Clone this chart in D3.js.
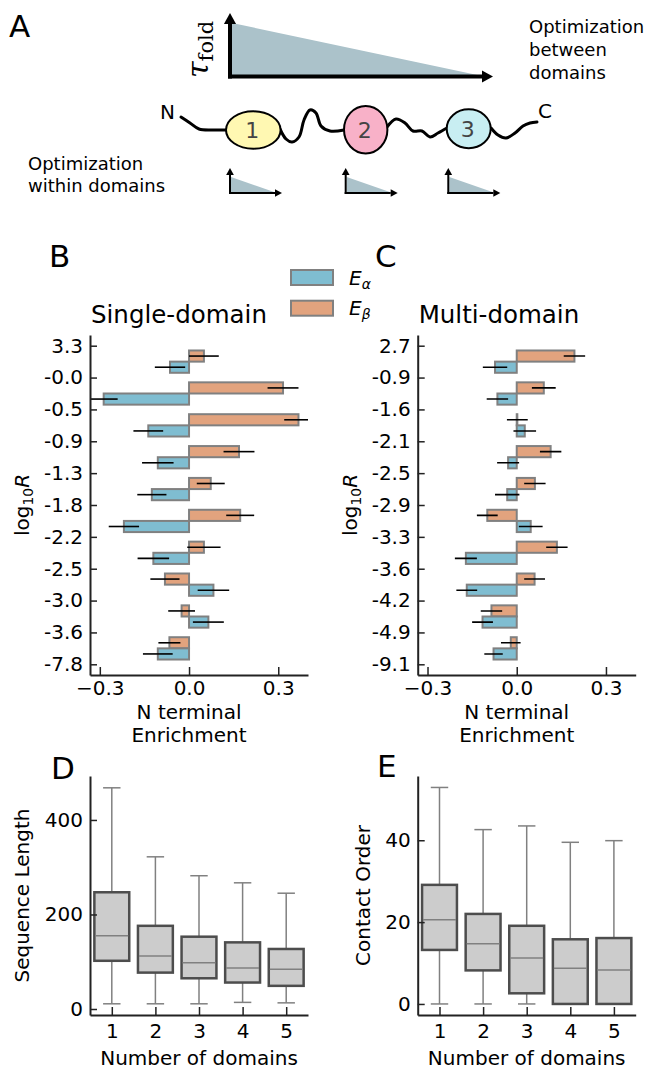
<!DOCTYPE html>
<html>
<head>
<meta charset="utf-8">
<title>Domain folding enrichment</title>
<script src="https://cdn.jsdelivr.net/npm/d3@7"></script>
<style>
  body { margin: 0; background: #fff; }
  svg text { font-family: "DejaVu Sans", sans-serif; fill: #000; }
  .axis path, .axis line { stroke: #222; }
  .axis path { stroke-width: 2; }
  .axis line { stroke-width: 1.5; }
  .axis text { font-size: 20px; font-family: "DejaVu Sans", sans-serif; fill: #000; }
</style>
</head>
<body>
<svg id="fig" width="649" height="1070"></svg>
<script>
// ---- panel B : single-domain enrichment ----
var rowTicksB = ["3.3", "-0.0", "-0.5", "-0.9", "-1.3", "-1.8", "-2.2", "-2.5", "-3.0", "-3.6", "-7.8"];
var alphaB    = [-0.064, -0.287, -0.137, -0.105, -0.125, -0.219, -0.120, 0.082, 0.065, -0.105];
var alphaErrB = [0.051, 0.047, 0.050, 0.053, 0.049, 0.051, 0.053, 0.053, 0.052, 0.050];
var betaB     = [0.050, 0.316, 0.368, 0.168, 0.073, 0.172, 0.050, -0.081, -0.025, -0.066];
var betaErrB  = [0.050, 0.052, 0.048, 0.052, 0.047, 0.047, 0.056, 0.049, 0.045, 0.037];

// ---- panel C : multi-domain enrichment ----
var rowTicksC = ["2.7", "-0.9", "-1.6", "-2.1", "-2.5", "-2.9", "-3.3", "-3.6", "-4.2", "-4.9", "-9.1"];
var alphaC    = [-0.073, -0.065, 0.027, -0.029, -0.032, 0.047, -0.171, -0.168, -0.115, -0.078];
var alphaErrC = [0.041, 0.036, 0.038, 0.037, 0.041, 0.040, 0.037, 0.035, 0.035, 0.031];
var betaC     = [0.194, 0.091, 0.002, 0.114, 0.061, -0.099, 0.135, 0.060, -0.085, -0.020];
var betaErrC  = [0.036, 0.040, 0.035, 0.036, 0.036, 0.035, 0.036, 0.035, 0.036, 0.033];

var enrichTicks = [-0.3, 0.0, 0.3];

// ---- panels D / E : box plots by number of domains ----
var nDomains = [1, 2, 3, 4, 5];
var seqLo  = [11, 11, 11, 14, 13];
var seqQ1  = [102, 77, 65, 56, 49];
var seqMed = [155, 112, 98, 87, 84];
var seqQ3  = [247, 176, 153, 141, 127];
var seqHi  = [468, 322, 282, 267, 245];
var seqTicks = [0, 200, 400];

var coLo  = [0, 0, 0, 0, 0];
var coQ1  = [13.2, 8.2, 2.6, 0, 0];
var coMed = [20.6, 14.7, 11.2, 8.7, 8.3];
var coQ3  = [29.1, 22.0, 19.1, 15.8, 16.1];
var coHi  = [52.9, 42.6, 43.5, 39.5, 39.9];
var coTicks = [0, 20, 40];

var blue = "#7fbdd1", orange = "#e2a37e", edge = "#808080";

var svg = d3.select("#fig");

function letter(t, x, y) {
    svg.append("text").attr("x", x).attr("y", y)
        .style("font-size", "31px").text(t);
}

// ================= panel A (schematic) =================
letter("A", 9, 37);

function arrowAxes(x0, yb, ytop, xr, lw, head) {
    var g = svg.append("g");
    g.append("line").attr("x1", x0).attr("y1", yb + lw / 2).attr("x2", x0).attr("y2", ytop + head)
        .attr("stroke", "#000").attr("stroke-width", lw);
    g.append("line").attr("x1", x0 - lw / 2).attr("y1", yb).attr("x2", xr - head).attr("y2", yb)
        .attr("stroke", "#000").attr("stroke-width", lw);
    var w = head * 0.55;
    g.append("path").attr("d", "M" + (x0 - w) + "," + (ytop + head) + "L" + x0 + "," + ytop + "L" + (x0 + w) + "," + (ytop + head) + "Z");
    g.append("path").attr("d", "M" + (xr - head) + "," + (yb - w) + "L" + xr + "," + yb + "L" + (xr - head) + "," + (yb + w) + "Z");
    return g;
}

// big folding-time triangle
svg.append("path").attr("d", "M232,23L482,76L232,76Z").attr("fill", "#abc2ca");
arrowAxes(230, 76.5, 13, 493, 4, 11);

var tau = svg.append("text").attr("transform", "translate(208,78) rotate(-90)")
    .style("font-family", "DejaVu Serif, serif");
tau.append("tspan").style("font-size", "30px").style("font-style", "italic").text("τ");
tau.append("tspan").attr("dy", 5).style("font-size", "21px").text("fold");

function lines(arr, x, y0, dy) {
    arr.forEach(function(s, i) {
        svg.append("text").attr("x", x).attr("y", y0 + i * dy).style("font-size", "18px").text(s);
    });
}
lines(["Optimization", "between", "domains"], 529, 32.5, 23);
lines(["Optimization", "within domains"], 28, 170, 22);

// chain
var chainSegs = [
    [[181, 117], [190, 123], [199, 129], [212, 130], [226, 130]],
    [[280, 129], [286, 139], [292, 142], [299, 137], [304, 120], [310, 110], [316, 113], [321, 126], [330, 131], [344, 130]],
    [[387, 127], [396, 119], [405, 123], [413, 131], [422, 131], [430, 137], [438, 133], [447, 128]],
    [[491, 128], [498, 135], [506, 138], [515, 133], [523, 126], [530, 123], [537, 122]]
];
var wave = d3.line().curve(d3.curveCatmullRom);
chainSegs.forEach(function(s) {
    svg.append("path").attr("d", wave(s)).attr("fill", "none")
        .attr("stroke", "#000").attr("stroke-width", 3).attr("stroke-linecap", "round");
});

var domainBlobs = [
    {label: "1", cx: 253.3, cy: 130, rx: 27.3, ry: 18.7, fill: "#fff8b2"},
    {label: "2", cx: 365.7, cy: 129.7, rx: 21.7, ry: 23.7, fill: "#f8b1c8"},
    {label: "3", cx: 468.7, cy: 128.8, rx: 22, ry: 19.5, fill: "#c8eef2"}
];
svg.selectAll(".blob").data(domainBlobs).enter().append("ellipse")
    .attr("cx", function(d) { return d.cx; }).attr("cy", function(d) { return d.cy; })
    .attr("rx", function(d) { return d.rx; }).attr("ry", function(d) { return d.ry; })
    .attr("fill", function(d) { return d.fill; })
    .attr("stroke", "#000").attr("stroke-width", 2);
svg.selectAll(".blobLabel").data(domainBlobs).enter().append("text")
    .attr("x", function(d) { return d.cx - 1; }).attr("y", function(d) { return d.cy + 8; })
    .attr("text-anchor", "middle").style("font-size", "22px").style("fill", "#444")
    .text(function(d) { return d.label; });

svg.append("text").attr("x", 160).attr("y", 119).style("font-size", "20px").text("N");
svg.append("text").attr("x", 538).attr("y", 118).style("font-size", "20px").text("C");

[230, 345.7, 448.3].forEach(function(x0) {
    svg.append("path").attr("d", "M" + (x0 + 1) + ",177L" + (x0 + 47) + ",193L" + (x0 + 1) + ",193Z").attr("fill", "#abc2ca");
    arrowAxes(x0, 193, 168, x0 + 52, 2, 7);
});

// ================= panels B, C =================
var barTop = 335, barBottom = 675, axW = 218;

function barPanel(left, rowTicks, alpha, alphaErr, beta, betaErr, title, id) {
    var x = d3.scaleLinear().domain([-0.333, 0.4]).range([left, left + axW]);
    var y = d3.scaleLinear().domain([-0.336, 10.336]).range([barTop, barBottom]);
    var h = 0.35;

    svg.append("clipPath").attr("id", id).append("rect")
        .attr("x", left).attr("y", barTop).attr("width", axW).attr("height", barBottom - barTop);

    var g = svg.append("g").attr("clip-path", "url(#" + id + ")");

    function bars(vals, errs, off, color) {
        var rows = vals.map(function(v, i) { return {v: v, e: errs[i], i: i}; });
        g.selectAll(null).data(rows).enter().append("rect")
            .attr("x", function(d) { return Math.min(x(0), x(d.v)); })
            .attr("width", function(d) { return Math.abs(x(d.v) - x(0)); })
            .attr("y", function(d) { return y(d.i + off); })
            .attr("height", y(h) - y(0))
            .attr("fill", color).attr("stroke", edge).attr("stroke-width", 2);
        g.selectAll(null).data(rows).enter().append("line")
            .attr("x1", function(d) { return x(d.v - d.e); })
            .attr("x2", function(d) { return x(d.v + d.e); })
            .attr("y1", function(d) { return y(d.i + off + h / 2); })
            .attr("y2", function(d) { return y(d.i + off + h / 2); })
            .attr("stroke", "#000").attr("stroke-width", 1.6);
    }
    bars(beta, betaErr, 0.5 - h, orange);
    bars(alpha, alphaErr, 0.5, blue);

    svg.append("g").attr("class", "axis").attr("transform", "translate(0," + barBottom + ")")
        .call(d3.axisBottom(x).tickValues(enrichTicks).tickFormat(d3.format(".1f"))
            .tickSizeInner(-8).tickSizeOuter(0).tickPadding(6));
    svg.append("g").attr("class", "axis").attr("transform", "translate(" + left + ",0)")
        .call(d3.axisLeft(y).tickValues(d3.range(rowTicks.length))
            .tickFormat(function(i) { return rowTicks[i]; })
            .tickSizeInner(-7).tickSizeOuter(0).tickPadding(7));

    svg.append("text").attr("x", left + 1).attr("y", 322.7).style("font-size", "24.5px").text(title);

    var cx = x(0);
    svg.append("text").attr("x", cx).attr("y", 718.8).attr("text-anchor", "middle").style("font-size", "20px").text("N terminal");
    svg.append("text").attr("x", cx).attr("y", 742.3).attr("text-anchor", "middle").style("font-size", "20px").text("Enrichment");

    var yl = svg.append("text").attr("transform", "translate(" + (left - 61) + "," + ((barTop + barBottom) / 2) + ") rotate(-90)")
        .attr("text-anchor", "middle").style("font-size", "20px");
    yl.append("tspan").text("log");
    yl.append("tspan").attr("dy", 4).style("font-size", "14px").text("10");
    yl.append("tspan").attr("dy", -4).style("font-style", "italic").text("R");
}

letter("B", 49, 267);
letter("C", 375, 267);
barPanel(90, rowTicksB, alphaB, alphaErrB, betaB, betaErrB, "Single-domain", "clipB");
barPanel(417.7, rowTicksC, alphaC, alphaErrC, betaC, betaErrC, "Multi-domain", "clipC");

// legend
var legend = [
    {color: blue, sub: "α", y: 270},
    {color: orange, sub: "β", y: 300.7}
];
legend.forEach(function(d) {
    svg.append("rect").attr("x", 291).attr("y", d.y).attr("width", 42).attr("height", 15)
        .attr("fill", d.color).attr("stroke", edge).attr("stroke-width", 2);
    var t = svg.append("text").attr("x", 349).attr("y", d.y + 14.5).style("font-size", "20px").style("font-style", "italic");
    t.append("tspan").text("E");
    t.append("tspan").attr("dy", 4).style("font-size", "14px").text(d.sub);
});

// ================= panels D, E =================
var boxTop = 776, boxBottom = 1015;

function boxPanel(left, yDomain, lo, q1, med, q3, hi, ticks, ylabel, ylabelX) {
    var x = d3.scaleLinear().domain([0.5, 5.5]).range([left, left + axW]);
    var y = d3.scaleLinear().domain(yDomain).range([boxBottom, boxTop]);
    var bw = x(1.4) - x(1), cw = x(1.2) - x(1);
    var rows = nDomains.map(function(n, i) {
        return {n: n, lo: lo[i], q1: q1[i], med: med[i], q3: q3[i], hi: hi[i]};
    });
    var g = svg.append("g");
    var whisk = function(sel) { return sel.attr("stroke", "#808080").attr("stroke-width", 1.5); };

    whisk(g.selectAll(null).data(rows).enter().append("line")
        .attr("x1", function(d) { return x(d.n); }).attr("x2", function(d) { return x(d.n); })
        .attr("y1", function(d) { return y(d.q3); }).attr("y2", function(d) { return y(d.hi); }));
    whisk(g.selectAll(null).data(rows).enter().append("line")
        .attr("x1", function(d) { return x(d.n); }).attr("x2", function(d) { return x(d.n); })
        .attr("y1", function(d) { return y(d.q1); }).attr("y2", function(d) { return y(d.lo); }));
    ["hi", "lo"].forEach(function(k) {
        whisk(g.selectAll(null).data(rows).enter().append("line")
            .attr("x1", function(d) { return x(d.n) - cw; }).attr("x2", function(d) { return x(d.n) + cw; })
            .attr("y1", function(d) { return y(d[k]); }).attr("y2", function(d) { return y(d[k]); }));
    });
    g.selectAll(null).data(rows).enter().append("rect")
        .attr("x", function(d) { return x(d.n) - bw; }).attr("width", 2 * bw)
        .attr("y", function(d) { return y(d.q3); })
        .attr("height", function(d) { return y(d.q1) - y(d.q3); })
        .attr("fill", "#cccccc").attr("stroke", "#4d4d4d").attr("stroke-width", 2.5);
    whisk(g.selectAll(null).data(rows).enter().append("line")
        .attr("x1", function(d) { return x(d.n) - bw + 1; }).attr("x2", function(d) { return x(d.n) + bw - 1; })
        .attr("y1", function(d) { return y(d.med); }).attr("y2", function(d) { return y(d.med); }));

    svg.append("g").attr("class", "axis").attr("transform", "translate(0," + boxBottom + ")")
        .call(d3.axisBottom(x).tickValues(nDomains).tickFormat(d3.format("d"))
            .tickSizeInner(-8).tickSizeOuter(0).tickPadding(9));
    svg.append("g").attr("class", "axis").attr("transform", "translate(" + left + ",0)")
        .call(d3.axisLeft(y).tickValues(ticks).tickFormat(d3.format("d"))
            .tickSizeInner(-7).tickSizeOuter(0).tickPadding(7));

    svg.append("text").attr("x", left + axW / 2).attr("y", 1065).attr("text-anchor", "middle")
        .style("font-size", "20px").text("Number of domains");
    svg.append("text").attr("transform", "translate(" + ylabelX + "," + ((boxTop + boxBottom) / 2) + ") rotate(-90)")
        .attr("text-anchor", "middle").style("font-size", "20px").text(ylabel);
}

letter("D", 51, 779);
letter("E", 377, 777);
boxPanel(90, [-12.7, 493], seqLo, seqQ1, seqMed, seqQ3, seqHi, seqTicks, "Sequence Length", 29);
boxPanel(417.7, [-2.7, 55.7], coLo, coQ1, coMed, coQ3, coHi, coTicks, "Contact Order", 370);
</script>
</body>
</html>
